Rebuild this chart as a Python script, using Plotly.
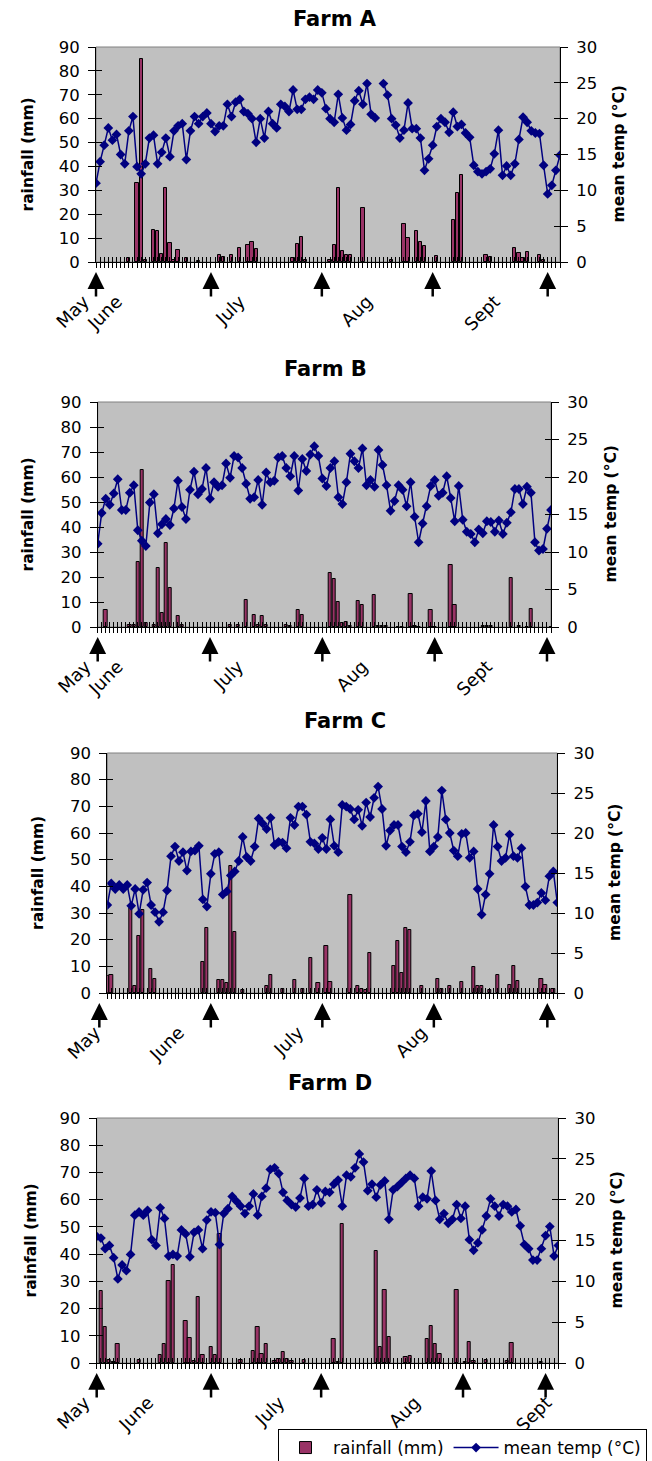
import plotly.graph_objects as go

# ---------------- data ----------------
farm_names = ['Farm A', 'Farm B', 'Farm C', 'Farm D']

# daily mean temperature (deg C), one value per day from the first day shown
temp_a = [11, 14, 16.3, 18.7, 17, 17.8, 15, 13.7, 18.3, 20.3,
          13.3, 12.3, 13.7, 17.3, 17.7, 13.7, 15.3, 17.3, 14.7, 18.3,
          19, 19.3, 14.3, 18.3, 20.3, 19.3, 20.3, 20.8, 19.3, 18.2,
          19, 19, 22, 20.3, 22.3, 22.7, 21, 20.7, 20, 16.7,
          20, 17.3, 21, 19.3, 18.7, 22, 21.7, 21, 24, 21.3,
          21.3, 22.7, 23, 22.7, 24,
          23.6, 21.4, 20, 19.5, 23.4, 20.1, 18.4, 19.2, 22.5, 23.9,
          22, 24.9, 20.6, 20.1, None, 24.9, 23.3, 20, 19.1, 17.3,
          18.4, 22.2, 18.6, 18.6, 17.3, 12.8, 14.4, 16.3, 18.9, 20,
          19.5, 18.1, 20.9, 18.9, 19.2, 18, 17.4, 13.5, 12.6, 12.3,
          12.6, 13, 15.1, 18.4, 12.1, 13.4, 12.1, 13.7, 17.1, 20.2,
          19.5, 18.3, 18, 17.9, 13.5, 9.5, 10.7, 12.8, 14.9]

temp_b = [11.1, 15.2, 17.1, 16.3, 17.8, 19.7, 15.6, 15.6, 17.9, 18.9,
          12.9, 11.5, 10.8, 16.6, 17.7, 12.5, 13.7, 14.4, 13.6, 15.8,
          19.5, 16, 14.4, 18.3, 20.7, 17.7, 18.4, 21.2, 17.1, 19.3,
          18.7, 18.9, 21.8, 19.9, 22.8, 22.6, 21.2, 19.1, 17.1, 17.3,
          19.6, 16.3, 20.6, 19.3, 19.5, 22.6, 22.8, 21.2, 20.1, 22.8,
          18.2, 22.4, 20.8, 23, 24.1,
          22.8, 19.8, 18.8, 21.2, 22.1, 17.3, 16.4, 19.3, 23.1, 22.1,
          21.2, 23.8, 18.9, 19.6, 18.7, 23.6, 21.6, 18.9, 15.5, 16.8,
          18.9, 18.3, 16.1, 19.3, 14.7, 11.3, 13.8, 16.1, 18.8, 19.6,
          17.5, 17.9, 20.1, 17.2, 14.1, 18.8, 14.3, 12.7, 12.4, 11.3,
          13, 12.5, 14.1, 14, 12.7, 14.2, 12.4, 13.9, 15.3, 18.4,
          18.4, 16.4, 18.7, 17.9, 11.3, 10.2, 10.4, 13.1, 15.6]

temp_c = [11.0, 13.7, 13.0, 13.5, 13, 13.5, 10.9, 13, 9.9, 12.9,
          13.8, 11.0, 10.1, 8.9, 10.1, 12.8, 17.1, 18.3, 16.5, 17.6,
          15.3, 17.7, 17.8, 18.4, 11.7, 10.8, 14.9, 17.4, 17.6, 12.3,
          12.7, 14.7, 15.2, 16.5, 19.5, 17, 16.5, 18.3, 21.8, 21.2,
          20.5, 21.9, 18.5, 18.9, 18.8, 18.1, 21.9, 21.0, 23.3, 23.3,
          22.3, 18.9, 18.7,
          18.0, 19.4, 18.0, 21.7, 18.4, 17.6, 23.5, 23.3, 23.0, 21.7,
          22.9, 20.9, 23.8, 22, 24.4, 25.8, 23, 18.4, 20.3, 21,
          21, 18.3, 17.6, 18.9, 22.2, 22.4, 20.1, 24, 17.7, 18.3,
          19.5, 25.3, 21.7, 20, 17.8, 17.1, 19.9, 20, 16.9, 17.7,
          13, 9.8, 12.3, 14.9, 21, 18.3, 16.5, 16.9, 19.8, 17.1,
          16.9, 18.1, 13.3, 11, 11, 11.3, 12.5, 11.6, 14.6, 15.2,
          11.3]

temp_d = [15.5, 15.3, 14, 14.4, 12.9, 10.3, 12, 11.3, 13.3, 18.1,
          18.5, 18.1, 18.7, 15.1, 14.4, 19, 17.7, 13.1, 13.3, 13.1,
          16.3, 15.8, 13, 16, 16.3, 14, 17.5, 18.5, 18.4, 14.5,
          18.3, 18.9, 20.4, 19.8, 19.2, 18.3, 19.2, 20.7, 18.1, 20.4,
          21.4, 23.7, 23.9, 23.2, 20.9, 19.9, 19.4, 19.1, 20.2, 22.6,
          19.2, 19.4,
          21.2, 19.6, 21, 20.9, 21.9, 22.4, 19.2, 23, 22.8, 23.9,
          25.6, 24.6, 21.1, 21.9, 20.3, 21.8, 22.3, 17.6, 21.2, 21.6,
          22.1, 22.6, 23, 22.6, 19.2, 20.3, 20.1, 23.5, 19.9, 17.6,
          18.3, 17.1, 17.6, 19.4, 17.7, 19.2, 15.1, 13.8, 14.7, 16.3,
          18, 20.1, 19.2, 18, 19.4, 19.2, 18.5, 18.8, 16.8, 14.5,
          14, 12.6, 12.6, 14, 15.6, 16.7, 13.1, 14.4]

# rainfall (mm): day index and amount, only days with rain
rain_day_a = [8, 10, 11, 12, 14, 15, 16, 17, 18, 19, 20, 22, 25, 30, 31, 33, 35, 37, 38, 39,
              48, 49, 50, 51, 57, 58, 59, 60, 61, 62, 65, 72, 75, 76, 78, 79, 80, 83, 87, 88,
              89, 95, 96, 102, 103, 104, 105, 108, 109]
rain_mm_a = [1.5, 33, 85, 1, 13.5, 13, 3.5, 31, 8, 1, 5, 1.5, 0.5, 3, 2, 3, 6, 7, 8.5, 5.5,
             1.5, 7.5, 10.5, 1, 1, 7, 31, 4.8, 3, 3, 22.5, 0.9, 16, 10, 13, 8.4, 6.6, 2.4, 17.7, 28.8,
             36.6, 3, 2.1, 6, 3.6, 1.5, 4.2, 3, 0.9]

rain_day_b = [2, 8, 9, 10, 11, 12, 14, 15, 16, 17, 18, 20, 21, 33, 35, 37, 39, 40, 41, 42,
              47, 48, 50, 51, 58, 59, 60, 61, 62, 63, 65, 66, 69, 70, 71, 72, 75, 76, 78, 79,
              80, 83, 84, 88, 89, 96, 97, 98, 103, 105, 107, 108, 113]
rain_mm_b = [6.7, 0.7, 1, 26, 62.7, 1.7, 0.7, 23.7, 5.6, 33.6, 15.6, 4.3, 1, 1, 0.7, 11, 5, 0.7, 4.4, 1,
             1, 0.5, 6.7, 5, 21.7, 19.3, 10, 1.6, 2, 0.3, 10.4, 8.7, 12.7, 0.3, 0.3, 0.3, 0.2, 0.2, 13.3, 0.5,
             0.2, 7, 0.2, 24.7, 8.7, 0.4, 0.4, 0.3, 19.7, 0.4, 0.2, 7.3, 0.1]

rain_day_c = [0, 1, 6, 7, 8, 9, 11, 12, 24, 25, 28, 29, 30, 31, 32, 34, 40, 41, 44, 47,
              49, 51, 53, 55, 56, 61, 63, 64, 65, 66, 72, 73, 74, 75, 76, 79, 83, 84, 86, 89,
              92, 93, 94, 96, 98, 101, 102, 103, 109, 110, 112]
rain_mm_c = [6.3, 6.9, 31.9, 2.8, 21.3, 31.3, 9, 5.3, 11.5, 24.4, 4.8, 4.8, 3.8, 47.5, 22.8, 1.3, 2.5, 6.9, 1.5, 4.8,
             1.5, 13.1, 3.8, 17.5, 4.1, 36.9, 2.8, 1.6, 1.3, 15, 10.3, 19.4, 7.5, 24.4, 23.5, 2.8, 5.3, 1.6, 2.8, 4.1,
             9.8, 2.5, 2.8, 1.3, 6.9, 3.1, 10.3, 4.4, 5.3, 3.1, 1.6]

rain_day_d = [1, 2, 3, 4, 5, 10, 15, 16, 17, 18, 21, 22, 23, 24, 25, 27, 28, 29, 34, 37,
              38, 39, 40, 42, 43, 44, 45, 46, 49, 56, 57, 58, 66, 67, 68, 69, 73, 74, 78, 79,
              80, 81, 85, 87, 88, 89, 92, 97, 98, 105]
rain_mm_d = [26.4, 13.3, 1.2, 0.4, 7.1, 1, 2.8, 6.9, 30.1, 36, 15.3, 9.2, 0.6, 24.1, 2.8, 5.9, 2.8, 47.4, 1, 4.3,
             13.3, 3.2, 6.8, 0.6, 1.6, 4.1, 1.6, 0.6, 1, 9, 0.4, 51, 41, 5.9, 26.8, 9.6, 2.2, 2.6, 9, 13.6,
             6.9, 3.2, 26.8, 0.4, 7.7, 0.6, 1, 0.6, 7.4, 0.4]

# month labels on the date axis (day index where each month label sits)
month_names_a = ['May', 'June', 'July', 'Aug', 'Sept']
month_pos_a = [0, 8, 38, 69, 100]
month_names_b = ['May', 'June', 'July', 'Aug', 'Sept']
month_pos_b = [0, 8, 38, 69, 100]
month_names_c = ['May', 'June', 'July', 'Aug']
month_pos_c = [0, 21, 51, 82]
month_names_d = ['May', 'June', 'July', 'Aug', 'Sept']
month_pos_d = [0, 15, 46, 78, 109]

# sampling dates marked with arrows (day index)
arrow_days_a = [0, 28, 55, 82, 110]
arrow_days_b = [0, 28, 56, 84, 112]
arrow_days_c = [-2, 26, 54, 82, 110.5]
arrow_days_d = [0, 27, 53, 86.5, 106]

panels = [
    (temp_a, rain_day_a, rain_mm_a, month_names_a, month_pos_a, arrow_days_a),
    (temp_b, rain_day_b, rain_mm_b, month_names_b, month_pos_b, arrow_days_b),
    (temp_c, rain_day_c, rain_mm_c, month_names_c, month_pos_c, arrow_days_c),
    (temp_d, rain_day_d, rain_mm_d, month_names_d, month_pos_d, arrow_days_d),
]

# ---------------- layout (pixels of the 652 x 1461 page) ----------------
W, H = 652, 1461
# plot areas: left, right, top, bottom
boxes = [(96, 560, 47, 262), (97.7, 551, 402, 627), (107.3, 557.3, 753, 993), (96.7, 558.3, 1118, 1363)]
title_xy = [(335, 19), (325, 369), (345, 721), (330, 1083)]
ytitle_left_x = [27, 27, 38, 30]
ytitle_right_x = [618, 610, 615, 616]

BAR_COL = '#993366'
LINE_COL = '#000080'
FONT = 'DejaVu Sans'


def axname(letter, i):
    return letter if i == 1 else '%s%d' % (letter, i)


def laykey(letter, i):
    return letter + 'axis' + ('' if i == 1 else str(i))


fig = go.Figure()
layout_axes = {}
annotations = []
shapes = []

for k, (temps, rday, rmm, mnames, mpos, arrows) in enumerate(panels):
    n = len(temps)
    left, right, top, bottom = boxes[k]
    xa, xb = 2 * k + 1, 2 * k + 2
    ya, yb, yc, yd = 4 * k + 1, 4 * k + 2, 4 * k + 3, 4 * k + 4
    xdom = [left / W, right / W]
    ydom = [1 - bottom / H, 1 - top / H]

    # rainfall bars
    fig.add_trace(go.Bar(x=rday, y=rmm, width=0.8, name='rainfall (mm)',
                         marker=dict(color=BAR_COL, line=dict(color='black', width=1)),
                         xaxis=axname('x', xa), yaxis=axname('y', ya),
                         showlegend=(k == 0), legendgroup='rain', hoverinfo='skip'))
    # mean temperature line
    fig.add_trace(go.Scatter(x=list(range(n)), y=temps, mode='lines+markers', name='mean temp (°C)',
                             line=dict(color=LINE_COL, width=1.5),
                             marker=dict(symbol='diamond', size=7.5, color=LINE_COL),
                             xaxis=axname('x', xa), yaxis=axname('y', yc),
                             showlegend=(k == 0), legendgroup='temp', hoverinfo='skip'))
    # empty traces so the extra tick axes get drawn
    for xi, yi in [(xb, ya), (xa, yb), (xa, yd)]:
        fig.add_trace(go.Scatter(x=[None], y=[None], mode='markers', showlegend=False,
                                 hoverinfo='skip', xaxis=axname('x', xi), yaxis=axname('y', yi)))

    ticktext = [''] * n
    for name, p in zip(mnames, mpos):
        ticktext[p] = name

    common_x = dict(range=[0, n - 1], tickvals=list(range(n)), showgrid=False, zeroline=False,
                    fixedrange=True, tickcolor='black', tickwidth=1, automargin=False)
    layout_axes[laykey('x', xa)] = dict(common_x, domain=xdom, anchor=axname('y', ya),
                                        ticktext=ticktext, ticks='outside', ticklen=5,
                                        tickangle=-45, ticklabelstandoff=16, ticklabelshift=-12,
                                        tickfont=dict(family=FONT, size=18, color='black'),
                                        showline=True, linecolor='black', linewidth=1)
    layout_axes[laykey('x', xb)] = dict(common_x, overlaying=axname('x', xa), anchor=axname('y', ya),
                                        side='bottom', ticks='inside', ticklen=5,
                                        showticklabels=False, showline=False)

    common_y = dict(showgrid=False, zeroline=False, fixedrange=True, tickcolor='black', tickwidth=1,
                    automargin=False)
    tfont = dict(family=FONT, size=16.5, color='black')
    layout_axes[laykey('y', ya)] = dict(common_y, domain=ydom, anchor=axname('x', xa),
                                        range=[0, 90], dtick=10, ticks='outside', ticklen=7,
                                        tickfont=tfont, ticklabelstandoff=5,
                                        showline=True, linecolor='black', linewidth=1)
    layout_axes[laykey('y', yb)] = dict(common_y, overlaying=axname('y', ya), anchor=axname('x', xa),
                                        side='left', range=[0, 90], dtick=10, ticks='inside',
                                        ticklen=6, showticklabels=False, showline=False)
    layout_axes[laykey('y', yc)] = dict(common_y, overlaying=axname('y', ya), anchor=axname('x', xa),
                                        side='right', range=[0, 30], dtick=5, ticks='outside',
                                        ticklen=7, tickfont=tfont, ticklabelstandoff=5,
                                        showline=True, linecolor='black', linewidth=1)
    layout_axes[laykey('y', yd)] = dict(common_y, overlaying=axname('y', ya), anchor=axname('x', xa),
                                        side='right', range=[0, 30], dtick=5, ticks='inside',
                                        ticklen=6, showticklabels=False, showline=False)

    # grey plot-area frame
    shapes.append(dict(type='rect', xref=axname('x', xa) + ' domain', yref=axname('y', ya) + ' domain',
                       x0=0, x1=1, y0=0, y1=1, line=dict(color='#808080', width=1), layer='below'))

    # titles
    tx, ty = title_xy[k]
    annotations.append(dict(text='<b>%s</b>' % farm_names[k], x=tx / W, y=1 - ty / H,
                            xref='paper', yref='paper', xanchor='center', yanchor='middle',
                            showarrow=False, font=dict(family=FONT, size=21, color='black')))
    ymid = 1 - (top + bottom) / 2 / H
    annotations.append(dict(text='<b>rainfall (mm)</b>', x=ytitle_left_x[k] / W, y=ymid,
                            xref='paper', yref='paper', xanchor='center', yanchor='middle',
                            showarrow=False, textangle=-90,
                            font=dict(family=FONT, size=15.5, color='black')))
    annotations.append(dict(text='<b>mean temp (°C)</b>', x=ytitle_right_x[k] / W, y=ymid,
                            xref='paper', yref='paper', xanchor='center', yanchor='middle',
                            showarrow=False, textangle=-90,
                            font=dict(family=FONT, size=15.5, color='black')))

    # arrows under the date axis
    px_per_day = (right - left) / (n - 1)
    for d in arrows:
        xd = min(max(d, 0), n - 1)
        annotations.append(dict(text='', x=xd, y=0, xref=axname('x', xa), yref=axname('y', ya),
                                xshift=(d - xd) * px_per_day, yshift=-10,
                                showarrow=True, arrowhead=2, arrowsize=1.35, arrowwidth=2.5,
                                arrowcolor='black', ax=0, ay=26))

fig.update_layout(
    width=W, height=H, autosize=False,
    margin=dict(l=0, r=0, t=0, b=0, autoexpand=False),
    paper_bgcolor='white', plot_bgcolor='#C0C0C0',
    barmode='overlay', bargap=0,
    annotations=annotations, shapes=shapes,
    legend=dict(orientation='h', x=278 / W, y=1 - 1429 / H, xanchor='left', yanchor='top',
                bordercolor='black', borderwidth=1, bgcolor='white', itemwidth=45,
                font=dict(family=FONT, size=17, color='black')),
    **layout_axes
)

# page body has an 8px default margin; drop it so the figure sits at the top-left corner
fig.write_html("out.html", config={'displayModeBar': False},
               post_script="document.body.style.margin='0';")
